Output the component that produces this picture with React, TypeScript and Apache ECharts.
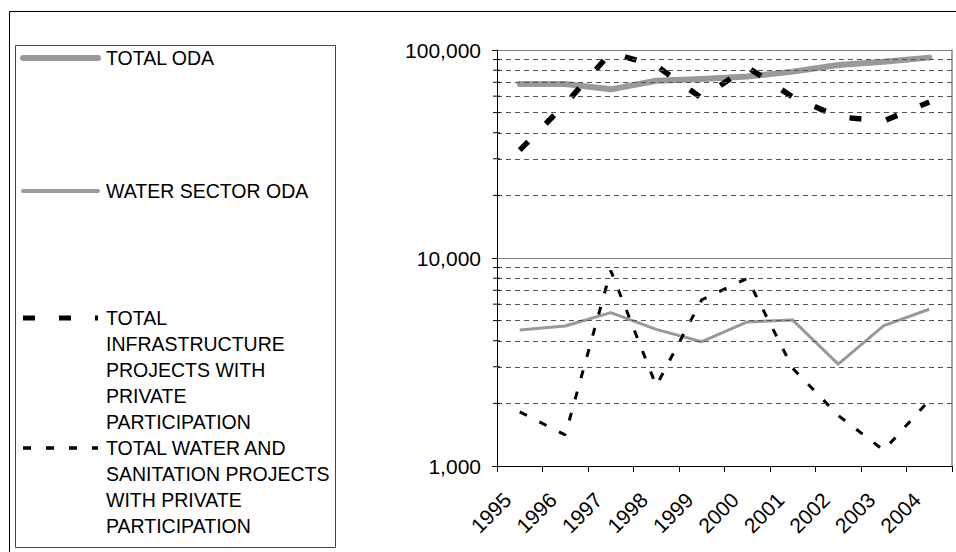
import React, { useEffect, useRef } from "react";
import * as echarts from "echarts";

const years = ["1995", "1996", "1997", "1998", "1999", "2000", "2001", "2002", "2003", "2004"];
const totalOda = [68700, 68700, 64700, 71100, 72600, 74500, 78700, 84700, 87900, 91900];
const waterSectorOda = [4510, 4710, 5460, 4540, 3960, 4930, 5030, 3090, 4730, 5670];
const infraPrivate = [33000, 55000, 97000, 84000, 58700, 82800, 59400, 47700, 45600, 56200];
const waterPrivate = [1820, 1410, 8700, 2430, 6300, 7980, 2950, 1750, 1190, 2070];
const minorGridValues = [2000, 3000, 4000, 5000, 6000, 7000, 8000, 9000, 20000, 30000, 40000, 50000, 60000, 70000, 80000, 90000];
const seriesNames = [
  "TOTAL ODA",
  "WATER SECTOR ODA",
  "TOTAL INFRASTRUCTURE PROJECTS WITH PRIVATE PARTICIPATION",
  "TOTAL WATER AND SANITATION PROJECTS WITH PRIVATE PARTICIPATION",
];
const legendLines = [
  ["TOTAL ODA"],
  ["WATER SECTOR ODA"],
  ["TOTAL", "INFRASTRUCTURE", "PROJECTS WITH", "PRIVATE", "PARTICIPATION"],
  ["TOTAL WATER AND", "SANITATION PROJECTS", "WITH PRIVATE", "PARTICIPATION"],
];

const FONT = "'Liberation Sans', Arial, sans-serif";

export default function App() {
  const ref = useRef<HTMLDivElement>(null);
  useEffect(() => {
    if (!ref.current) return;
    const chart = echarts.init(ref.current, undefined, { renderer: "svg" });

    const legendStyles = [
      { stroke: "#999999", lineWidth: 6, lineCap: "round" },
      { stroke: "#999999", lineWidth: 4, lineCap: "round" },
      { stroke: "#000000", lineWidth: 5, lineDash: [12, 24], lineCap: "butt" },
      { stroke: "#000000", lineWidth: 3.5, lineDash: [8, 15], lineCap: "butt" },
    ];
    const legendY = [58, 191, 318, 448];
    const legendGraphics: any[] = [];
    legendLines.forEach((lines, i) => {
      legendGraphics.push({
        type: "line",
        shape: { x1: 23, y1: legendY[i], x2: 98, y2: legendY[i] },
        style: legendStyles[i],
      });
      legendGraphics.push({
        type: "text",
        x: 106,
        y: legendY[i] - 13,
        style: {
          text: lines.join("\n"),
          fontSize: 19.5,
          lineHeight: 26,
          fontFamily: FONT,
          fill: "#000",
          verticalAlign: "top",
          align: "left",
        },
      });
    });

    const option: any = {
      animation: false,
      backgroundColor: "#fff",
      grid: { left: 497, top: 50, right: 4, bottom: 86, containLabel: false },
      graphic: [
        {
          type: "rect",
          shape: { x: 9.5, y: 11.5, width: 1200, height: 1200 },
          style: { fill: "none", stroke: "#000", lineWidth: 1 },
          z: -1,
        },
        {
          type: "rect",
          shape: { x: 15.5, y: 45.5, width: 320, height: 502 },
          style: { fill: "none", stroke: "#444", lineWidth: 1 },
        },
        ...legendGraphics,
      ],
      xAxis: {
        type: "category",
        data: years,
        boundaryGap: true,
        axisLine: { lineStyle: { color: "#000", width: 1 } },
        axisTick: { show: true, length: 6, lineStyle: { color: "#000" } },
        axisLabel: {
          interval: 0,
          rotate: 45,
          margin: 3,
          verticalAlign: "top",
          padding: [0, 28, 0, 0],
          fontSize: 21,
          fontFamily: FONT,
          color: "#000",
        },
        splitLine: { show: false },
      },
      yAxis: [
        {
          type: "log",
          logBase: 10,
          min: 1000,
          max: 100000,
          axisLine: { show: true, lineStyle: { color: "#000", width: 1 } },
          axisTick: { show: true, length: 5, lineStyle: { color: "#000" } },
          axisLabel: {
            margin: 16,
            fontSize: 21,
            fontFamily: FONT,
            color: "#000",
            formatter: (v: number) => Math.round(v).toLocaleString("en-US"),
          },
          splitLine: { show: true, lineStyle: { color: "#808080", width: 1 } },
        },
        {
          type: "log",
          logBase: 10,
          min: 1000,
          max: 100000,
          position: "right",
          axisLine: { show: true, lineStyle: { color: "#8a8a8a", width: 1.5 } },
          axisTick: { show: false },
          axisLabel: { show: false },
          splitLine: { show: false },
        },
      ],
      series: [
        {
          name: "minor-grid",
          type: "line",
          data: [],
          silent: true,
          z: 1,
          markLine: {
            silent: true,
            symbol: "none",
            label: { show: false },
            lineStyle: { color: "#555", width: 1, type: [5, 4] },
            data: minorGridValues.map((v) => ({ yAxis: v })),
          },
        },
        {
          name: "minor-ticks",
          type: "custom",
          silent: true,
          z: 5,
          data: minorGridValues.map((v) => [0, v]),
          renderItem: (params: any, api: any) => {
            const p = api.coord([0, api.value(1)]);
            const x0 = params.coordSys.x;
            return {
              type: "line",
              shape: { x1: x0 - 4, y1: p[1], x2: x0 + 3, y2: p[1] },
              style: { stroke: "#000", lineWidth: 1 },
            };
          },
        },
        {
          name: seriesNames[0],
          type: "line",
          data: totalOda,
          symbol: "none",
          z: 3,
          lineStyle: { color: "#999999", width: 6, cap: "round", join: "round" },
        },
        {
          name: seriesNames[1],
          type: "line",
          data: waterSectorOda,
          symbol: "none",
          z: 3,
          lineStyle: { color: "#999999", width: 3, join: "round" },
        },
        {
          name: seriesNames[2],
          type: "line",
          data: infraPrivate,
          symbol: "none",
          z: 4,
          lineStyle: { color: "#000", width: 5.5, type: [12, 25], cap: "butt" },
        },
        {
          name: seriesNames[3],
          type: "line",
          data: waterPrivate,
          symbol: "none",
          z: 4,
          lineStyle: { color: "#000", width: 3, type: [8, 14], cap: "butt" },
        },
      ],
    };
    chart.setOption(option);
    return () => chart.dispose();
  }, []);

  return (
    <div
      ref={ref}
      style={{ position: "fixed", left: 0, top: 0, width: 956, height: 552, background: "#fff" }}
    />
  );
}
